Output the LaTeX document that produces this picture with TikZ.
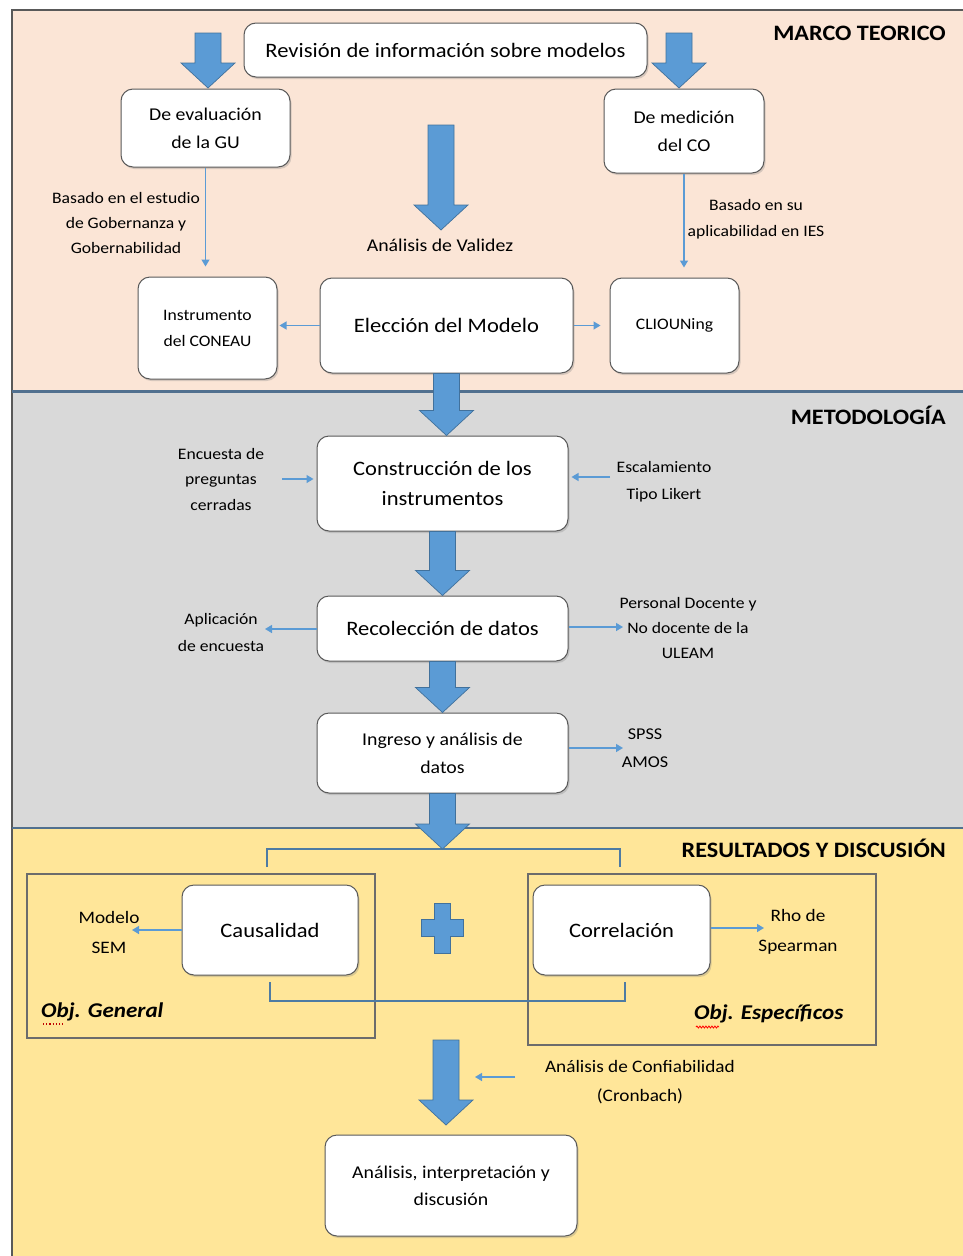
\documentclass[tikz,border=0pt]{standalone}
\usepackage{fontspec}
\setmainfont{Carlito}[FakeStretch=1.1]
\usetikzlibrary{arrows.meta,shadows,decorations.pathmorphing,calc}
\definecolor{peach}{HTML}{FBE5D6}
\definecolor{metgray}{HTML}{D9D9D9}
\definecolor{resyel}{HTML}{FFE699}
\definecolor{arrblue}{HTML}{5B9BD5}
\definecolor{arredge}{HTML}{41719C}
\definecolor{divline}{HTML}{51708F}
\definecolor{brk}{HTML}{4E7BA3}
\definecolor{boxedge}{HTML}{595959}
\newcommand{\fsz}[2]{\fontsize{#1}{#2}\selectfont}
\newcommand{\blockarrow}[2]{%
  \draw[bigarr] let \p1=(#1), \p2=(#2) in
   (\x1-13pt,\y1) -- (\x1+13pt,\y1) -- (\x1+13pt,\y2+25pt) -- (\x1+27pt,\y2+25pt)
   -- (\x1,\y2) -- (\x1-27pt,\y2+25pt) -- (\x1-13pt,\y2+25pt) -- cycle;}
\tikzset{
  box/.style={draw=boxedge, line width=1pt, fill=white, rounded corners=12pt, align=center,
    inner sep=2pt, drop shadow={shadow xshift=1.5pt, shadow yshift=-2pt, opacity=0.3}},
  lbl/.style={align=center, inner sep=0pt, text=black},
  thinarr/.style={draw=arrblue, line width=1.4pt, -{Triangle[width=8pt,length=7pt]}},
  bigarr/.style={fill=arrblue, draw=arredge, line width=0.7pt},
  title/.style={font=\fsz{22}{26}\bfseries, anchor=east, inner sep=0pt},
  objbox/.style={draw=gray!85!black, line width=1.2pt},
  bracket/.style={draw=brk, line width=2.6pt},
}
\begin{document}
\begin{tikzpicture}[x=1pt,y=-1pt]
\useasboundingbox (0,0) rectangle (963,1256);
% backgrounds
\fill[peach] (12,10) rectangle (963,391);
\fill[metgray] (12,391) rectangle (963,828);
\fill[resyel] (12,828) rectangle (963,1256);
\draw[gray!70!black, line width=1.3pt] (963,10) -- (12,10) -- (12,1256);
\draw[divline, line width=2.8pt] (12,391.5) -- (963,391.5);
\draw[divline, line width=2.5pt] (12,828) -- (963,828);
% titles
\node[title] (t1) at (946,33) {MARCO TEORICO};
\node[title] (t2) at (946,415) {METODOLOGÍA};
\node[title] (t3) at (946,848) {RESULTADOS Y DISCUSIÓN};
% boxes
\node[box, minimum width=403pt, minimum height=54pt, font=\fsz{20.5}{28}] (rev) at (445.5,50) {Revisión de información sobre modelos};
\node[box, minimum width=169pt, minimum height=78pt, font=\fsz{18}{28}] (eval) at (205.5,128) {De evaluación\\de la GU};
\node[box, minimum width=160pt, minimum height=84pt, font=\fsz{18}{28}] (med) at (684,131) {De medición\\del CO};
\node[box, minimum width=139pt, minimum height=102pt, font=\fsz{16}{26}] (inst) at (207.5,328) {Instrumento\\del CONEAU};
\node[box, minimum width=253pt, minimum height=95pt, font=\fsz{20.5}{28}] (elec) at (446.5,325.5) {Elección del Modelo};
\node[box, minimum width=129pt, minimum height=95pt, font=\fsz{16}{26}] (clio) at (674.5,325.5) {CLIOUNing};
\node[box, minimum width=251pt, minimum height=95pt, font=\fsz{20.5}{30}] (cons) at (442.5,483.5) {Construcción de los\\instrumentos};
\node[box, minimum width=251pt, minimum height=65pt, font=\fsz{20.5}{28}] (reco) at (442.5,628.5) {Recolección de datos};
\node[box, minimum width=251pt, minimum height=80pt, font=\fsz{18}{28}] (ingr) at (442.5,753) {Ingreso y análisis de\\datos};
\node[box, minimum width=176pt, minimum height=90pt, font=\fsz{20.5}{28}] (caus) at (270,930) {Causalidad};
\node[box, minimum width=177pt, minimum height=90pt, font=\fsz{20.5}{28}] (corr) at (621.5,930) {Correlación};
\node[box, minimum width=252pt, minimum height=101pt, font=\fsz{18}{27}] (anal) at (451,1185.5) {Análisis, interpretación y\\discusión};
% labels
\node[lbl, font=\fsz{16}{25}] (bas1) at (126,223) {Basado en el estudio\\de Gobernanza y\\Gobernabilidad};
\node[lbl, font=\fsz{16}{26}] (bas2) at (756,219) {Basado en su\\aplicabilidad en IES};
\node[lbl, font=\fsz{18}{26}] (valid) at (440,245) {Análisis de Validez};
\node[lbl, font=\fsz{16}{25.5}] (encu) at (221,479) {Encuesta de\\preguntas\\cerradas};
\node[lbl, font=\fsz{16}{27}] (esc) at (664,482) {Escalamiento\\Tipo Likert};
\node[lbl, font=\fsz{16}{27}] (apl) at (221,632) {Aplicación\\de encuesta};
\node[lbl, font=\fsz{16}{25}] (pers) at (688,628) {Personal Docente y\\No docente de la\\ULEAM};
\node[lbl, font=\fsz{16.5}{28}] (spss) at (645,748) {SPSS\\AMOS};
\node[lbl, font=\fsz{17.5}{30}] (sem) at (109,932) {Modelo\\SEM};
\node[lbl, font=\fsz{17.5}{30}] (rho) at (798,932) {Rho de\\Spearman};
\node[lbl, font=\fsz{17.5}{29}] (conf) at (640,1082) {Análisis de Confiabilidad\\(Cronbach)};
% objective boxes
\draw[objbox] (27,874) rectangle (375,1038);
\draw[objbox] (528,874) rectangle (876,1045);
\node[lbl, anchor=west, font=\fsz{21}{26}\bfseries\itshape] (objg) at (41,1012) {Obj. General};
\node[lbl, anchor=west, font=\fsz{21}{26}\bfseries\itshape] (obje) at (694,1014) {Obj. Específicos};
\draw[red!75!black, dotted, line width=1.2pt] ([xshift=2pt,yshift=-12pt]objg.west) -- ++(22,0);
\draw[red, line width=0.8pt, decorate, decoration={snake, amplitude=1pt, segment length=3pt}] ([xshift=2pt,yshift=-13pt]obje.west) -- ++(23,0);
% brackets
\draw[bracket] (267,867) -- (267,849) -- (620,849) -- (620,867);
\draw[bracket] (270,982) -- (270,1001) -- (625,1001) -- (625,982);
% plus sign
\draw[bigarr] (434,903) -- (450,903) -- (450,919) -- (463,919) -- (463,936) -- (450,936) -- (450,953) -- (434,953) -- (434,936) -- (421,936) -- (421,919) -- (434,919) -- cycle;
% big arrows
\coordinate (a1s) at (208,33);
\coordinate (a1e) at (208,88);
\coordinate (a2s) at (679,33);
\coordinate (a2e) at (679,88);
\coordinate (a3s) at (441,125);
\coordinate (a3e) at (441,230);
\coordinate (brtop) at (443,849);
\coordinate (a8s) at (446,1040);
\coordinate (a8e) at (446,1125);
\blockarrow{a1s}{a1e}
\blockarrow{a2s}{a2e}
\blockarrow{a3s}{a3e}
\blockarrow{elec.south}{cons.north}
\blockarrow{cons.south}{reco.north}
\blockarrow{reco.south}{ingr.north}
\blockarrow{ingr.south}{brtop}
\blockarrow{a8s}{a8e}
% thin arrows
\draw[thinarr, shorten >=10pt] (eval.south) -- (eval.south |- inst.north);
\draw[thinarr, shorten >=10pt] (med.south) -- (med.south |- clio.north);
\draw[thinarr, shorten >=2pt] (elec.west) -- (elec.west -| inst.east);
\draw[thinarr, shorten >=9pt] (elec.east) -- (elec.east -| clio.west);
\coordinate (c1) at (282,479);
\draw[thinarr, shorten >=3pt] (c1) -- (c1 -| cons.west);
\coordinate (c2) at (610,477);
\draw[thinarr, shorten >=3pt] (c2) -- (c2 -| cons.east);
\coordinate (c3) at (265,629);
\draw[thinarr] (reco.west |- c3) -- (c3);
\coordinate (c4) at (623,627);
\draw[thinarr] (reco.east |- c4) -- (c4);
\coordinate (c5) at (623,748);
\draw[thinarr] (ingr.east |- c5) -- (c5);
\coordinate (c6) at (132,930);
\draw[thinarr] (caus.west |- c6) -- (c6);
\coordinate (c7) at (764,928);
\draw[thinarr] (corr.east |- c7) -- (c7);
\coordinate (c8s) at (515,1077);
\coordinate (c8e) at (475,1077);
\draw[thinarr] (c8s) -- (c8e);
\end{tikzpicture}
\end{document}
